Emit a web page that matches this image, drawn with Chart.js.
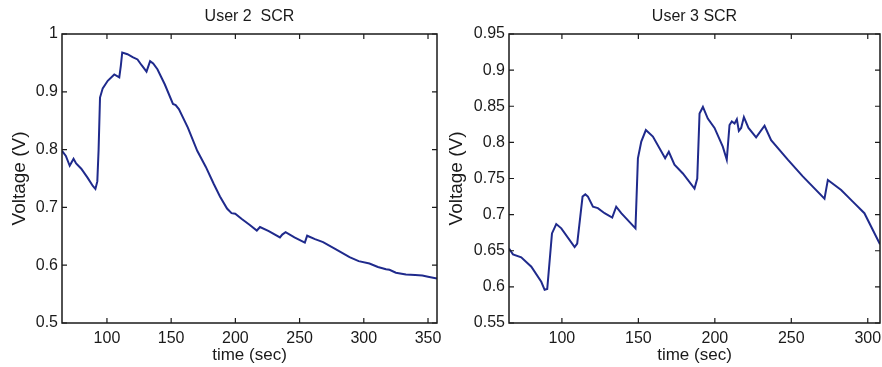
<!DOCTYPE html>
<html>
<head>
<meta charset="utf-8">
<script src="https://cdn.jsdelivr.net/npm/chart.js@4/dist/chart.umd.min.js"></script>
<style>
  html, body { margin: 0; padding: 0; background: #fff; }
  #wrap { position: relative; width: 882px; height: 367px; overflow: hidden; }
  .cell { position: absolute; top: 0; width: 441px; height: 367px; }
</style>
</head>
<body>
<div id="wrap">
  <div class="cell" style="left:0"><canvas id="c1" width="441" height="367"></canvas></div>
  <div class="cell" style="left:441px"><canvas id="c2" width="441" height="367"></canvas></div>
</div>
<script>
// ---------- Data ----------
const titleLeft = 'User 2  SCR';
const titleRight = 'User 3 SCR';
const xAxisTitle = 'time (sec)';
const yAxisTitle = 'Voltage (V)';

const user2Time = [65, 68, 71, 72.5, 74, 76, 80, 85, 89, 91, 92.5, 93.5, 94.6, 96.7, 100.6, 105.7, 109.6, 110.8, 111.9, 116, 120, 123.8, 127, 130.8, 133.6, 136, 139.3, 145, 151.4, 153.5, 156, 163, 170.3, 177, 183.1, 188, 193.5, 197, 199.9, 205, 211, 216.7, 219.2, 226, 234.7, 236.5, 239.1, 246, 254.1, 255.9, 262, 268.3, 278, 288.9, 296, 304.4, 311, 317.3, 320, 325, 332.8, 340, 345.6, 350, 357];
const user2Volt = [0.798, 0.789, 0.772, 0.778, 0.784, 0.776, 0.767, 0.751, 0.737, 0.732, 0.745, 0.800, 0.890, 0.906, 0.919, 0.930, 0.925, 0.945, 0.968, 0.965, 0.960, 0.956, 0.946, 0.935, 0.953, 0.949, 0.939, 0.913, 0.879, 0.877, 0.870, 0.838, 0.798, 0.770, 0.741, 0.719, 0.698, 0.690, 0.689, 0.680, 0.670, 0.660, 0.666, 0.659, 0.648, 0.653, 0.657, 0.648, 0.639, 0.651, 0.645, 0.640, 0.628, 0.614, 0.607, 0.603, 0.597, 0.593, 0.592, 0.587, 0.584, 0.583, 0.582, 0.580, 0.577];

const user3Time = [65.4, 68, 73.4, 80, 86.5, 88.7, 90.4, 93.5, 96.3, 99.6, 108.3, 110, 113.5, 115.3, 117, 120.3, 123.5, 127.9, 132.9, 135.5, 138.8, 148.1, 149.7, 151.9, 154.9, 159.5, 167.5, 169.9, 173.6, 179.1, 186.7, 188.5, 190, 192.2, 195.4, 199.8, 205.2, 207.8, 209.6, 211.1, 212.9, 214.4, 215.7, 217.2, 219, 222, 227, 232.5, 236.8, 247.7, 257.5, 271.7, 273.9, 282.6, 290.2, 297.8, 308];
const user3Volt = [0.653, 0.645, 0.641, 0.628, 0.607, 0.596, 0.597, 0.674, 0.687, 0.681, 0.655, 0.660, 0.725, 0.728, 0.725, 0.711, 0.709, 0.702, 0.696, 0.711, 0.702, 0.681, 0.778, 0.801, 0.817, 0.808, 0.778, 0.787, 0.769, 0.757, 0.736, 0.750, 0.840, 0.849, 0.833, 0.820, 0.794, 0.776, 0.824, 0.829, 0.826, 0.832, 0.816, 0.820, 0.835, 0.820, 0.807, 0.823, 0.803, 0.776, 0.753, 0.722, 0.748, 0.734, 0.718, 0.702, 0.659];

const user2XTicks = [100, 150, 200, 250, 300, 350];
const user2YTicks = [0.5, 0.6, 0.7, 0.8, 0.9, 1];
const user3XTicks = [100, 150, 200, 250, 300];
const user3YTicks = [0.55, 0.6, 0.65, 0.7, 0.75, 0.8, 0.85, 0.9, 0.95];

// ---------- Styling ----------
const FONT = 'Liberation Sans, Arial, Helvetica, sans-serif';
const LINE = '#1f2a8c';
const INK = '#1a1a1a';

const framePlugin = {
  id: 'matlabFrame',
  afterDatasetsDraw(chart) {
    const { ctx, chartArea: a, scales: { x, y } } = chart;
    ctx.save();
    ctx.strokeStyle = INK;
    ctx.lineWidth = 1.5;
    ctx.strokeRect(a.left, a.top, a.right - a.left, a.bottom - a.top);
    ctx.lineWidth = 1.2;
    ctx.beginPath();
    const L = 5;
    x.ticks.forEach(t => {
      const p = x.getPixelForValue(t.value);
      ctx.moveTo(p, a.bottom); ctx.lineTo(p, a.bottom - L);
      ctx.moveTo(p, a.top); ctx.lineTo(p, a.top + L);
    });
    y.ticks.forEach(t => {
      const p = y.getPixelForValue(t.value);
      ctx.moveTo(a.left, p); ctx.lineTo(a.left + L, p);
      ctx.moveTo(a.right, p); ctx.lineTo(a.right - L, p);
    });
    ctx.stroke();
    ctx.restore();
  }
};

function makeChart(id, cfg) {
  const pts = cfg.t.map((t, i) => ({ x: t, y: cfg.v[i] }));
  return new Chart(document.getElementById(id), {
    type: 'line',
    data: { datasets: [{ data: pts, borderColor: LINE, borderWidth: 2, pointRadius: 0, tension: 0, fill: false }] },
    options: {
      responsive: false,
      devicePixelRatio: 1,
      animation: false,
      layout: { padding: { left: 0, right: cfg.padRight, top: 0, bottom: 0 } },
      plugins: {
        legend: { display: false },
        tooltip: { enabled: false },
        title: {
          display: true, text: cfg.title, fullSize: false, color: INK,
          font: { family: FONT, size: 16, weight: 'normal', lineHeight: 1.2 },
          padding: { top: 7, bottom: cfg.top - 7 - 19.2 }
        }
      },
      scales: {
        x: {
          type: 'linear', min: cfg.xmin, max: cfg.xmax,
          grid: { display: false, drawTicks: false, tickLength: 0 }, border: { display: false },
          afterBuildTicks: s => { s.ticks = cfg.xTicks.map(v => ({ value: v })); },
          afterFit: s => { s.height = 367 - cfg.bottom; s.paddingLeft = 0; s.paddingRight = 0; },
          ticks: { color: INK, padding: 6, maxRotation: 0, autoSkip: false, font: { family: FONT, size: 16 } },
          title: { display: true, text: xAxisTitle, color: INK, font: { family: FONT, size: 17 }, padding: { top: 0, bottom: 1 } }
        },
        y: {
          type: 'linear', min: cfg.ymin, max: cfg.ymax,
          grid: { display: false, drawTicks: false, tickLength: 0 }, border: { display: false },
          afterBuildTicks: s => { s.ticks = cfg.yTicks.map(v => ({ value: v })); },
          afterFit: s => { s.width = cfg.left; s.paddingTop = 0; s.paddingBottom = 0; },
          ticks: { color: INK, padding: 4, autoSkip: false, font: { family: FONT, size: 16 },
                   callback: v => String(+Number(v).toFixed(2)) },
          title: { display: true, text: yAxisTitle, color: INK, font: { family: FONT, size: 19 }, padding: { top: cfg.yTitlePad, bottom: 0 } }
        }
      }
    },
    plugins: [framePlugin]
  });
}

makeChart('c1', {
  t: user2Time, v: user2Volt, title: titleLeft,
  xmin: 65, xmax: 357, ymin: 0.5, ymax: 1,
  xTicks: user2XTicks, yTicks: user2YTicks,
  left: 62, padRight: 4, top: 34, bottom: 323, yTitlePad: 8.5
});
makeChart('c2', {
  t: user3Time, v: user3Volt, title: titleRight,
  xmin: 65.4, xmax: 308, ymin: 0.55, ymax: 0.95,
  xTicks: user3XTicks, yTicks: user3YTicks,
  left: 68, padRight: 2, top: 34, bottom: 323, yTitlePad: 4.5
});
</script>
</body>
</html>
